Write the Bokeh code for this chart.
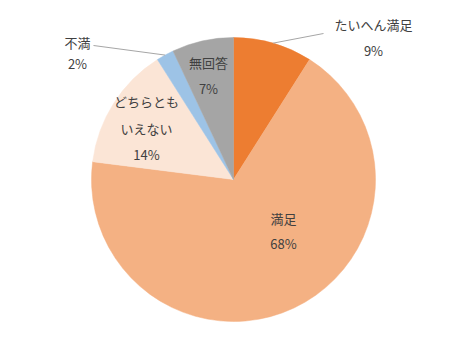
import math
from bokeh.plotting import figure
from bokeh.models import Range1d, ColumnDataSource
from bokeh.core.properties import value
from bokeh.embed import file_html
from bokeh.resources import INLINE

# ---- data ----
categories = ["たいへん満足", "満足", "どちらともいえない", "不満", "無回答"]
values = [9, 68, 14, 2, 7]
label_lines = [["たいへん満足"], ["満足"], ["どちらとも", "いえない"], ["不満"], ["無回答"]]
colors = ["#ED7D31", "#F4B183", "#FBE5D6", "#9DC3E6", "#A5A5A5"]

# ---- layout (page pixel coords; y measured from top) ----
W, H = 450, 343
CX, CY, R = 233, 179, 142
# label centre x, first-line y, line spacing
label_pos = [(373, 24, 26), (283, 218, 25), (146, 101, 26.5), (77, 42, 21), (208, 62, 26)]
# leader line start points (page coords) for outside labels
leaders = {0: (323, 33), 3: (93, 45)}

def Y(py):
    return 359 - py

p = figure(width=W, height=H, output_backend="svg", toolbar_location=None,
           x_range=Range1d(0, W), y_range=Range1d(359 - H, 359),
           min_border=0, outline_line_color=None)
p.axis.visible = False
p.grid.visible = False
p.background_fill_color = "white"
p.border_fill_color = "white"

total = sum(values)
cum = [0]
for v in values:
    cum.append(cum[-1] + v)
starts = [math.pi / 2 - 2 * math.pi * cum[i] / total for i in range(len(values))]
ends = [math.pi / 2 - 2 * math.pi * cum[i + 1] / total for i in range(len(values))]
mids = [(s + e) / 2 for s, e in zip(starts, ends)]

src = ColumnDataSource(dict(x=[CX] * len(values), y=[Y(CY)] * len(values),
                            start=starts, end=ends, color=colors, cat=categories))
p.wedge(x="x", y="y", radius=R, start_angle="start", end_angle="end",
        direction="clock", fill_color="color", line_color="color", line_width=0.5,
        source=src)

# leader lines
for i, (sx, sy) in leaders.items():
    ex = CX + R * math.cos(mids[i])
    ey = Y(CY) + R * math.sin(mids[i])
    p.line(x=[sx, ex], y=[Y(sy), ey], line_color="#A6A6A6", line_width=1)

# labels
tx, ty, tt = [], [], []
for i, lines in enumerate(label_lines):
    lx, ly, sp = label_pos[i]
    rows = lines + [f"{values[i]}%"]
    for k, t in enumerate(rows):
        tx.append(lx)
        ty.append(Y(ly + k * sp))
        tt.append(t)
p.text(x=tx, y=ty, text=tt, text_align="center", text_baseline="middle",
       text_font=value("Noto Sans CJK JP"), text_font_size="13px", text_color="#404040")

open("out.html", "w").write(file_html(p, INLINE))
